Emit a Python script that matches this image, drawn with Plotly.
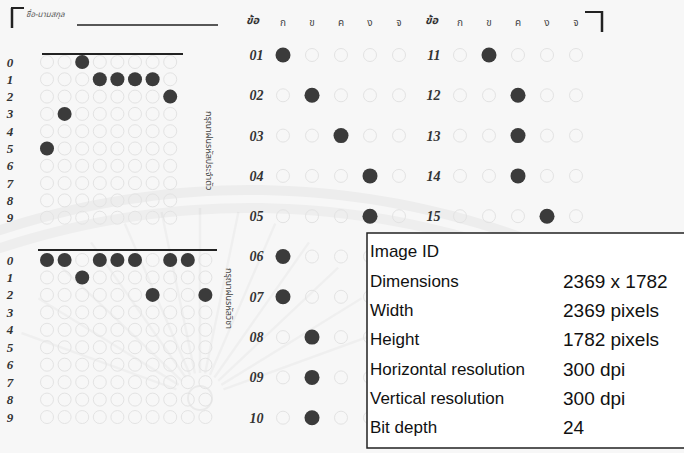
import numpy as np
import plotly.graph_objects as go

W, H = 684, 453

# ---------------- data ----------------
id_digits = [5, 3, 0, 1, 1, 1, 1, 2]                 # student id columns (top grid)
subject_digits = [0, 0, 1, 0, 0, 0, 2, 0, 0, 2]      # subject code columns (bottom grid)
digit_labels = ["0", "1", "2", "3", "4", "5", "6", "7", "8", "9"]
choices = ["ก", "ข", "ค", "ง", "จ"]
questions_left = [1, 2, 3, 4, 5, 6, 7, 8, 9, 10]
answers_left = ["ก", "ข", "ค", "ง", "ง", "ก", "ก", "ข", "ข", "ข"]
questions_right = [11, 12, 13, 14, 15]
answers_right = ["ข", "ค", "ค", "ค", "ง"]
info_labels = ["Image ID", "Dimensions", "Width", "Height",
               "Horizontal resolution", "Vertical resolution", "Bit depth"]
info_values = ["", "2369 x 1782", "2369 pixels", "1782 pixels",
               "300 dpi", "300 dpi", "24"]

# ---------------- helpers (layout geometry in pixels) ----------------
def xdom(c0, step, n):
    return [(c0 - step / 2) / W, (c0 + (n - 0.5) * step) / W]

def ydom(c0, step, n):
    top = c0 - step / 2
    bot = c0 + (n - 0.5) * step
    return [1 - bot / H, 1 - top / H]

FILL = "#3b3b3b"
EMPTY = "#e3e3e3"
serif = "Liberation Serif"
thai = "Noto Sans Thai, Noto Sans, DejaVu Sans, sans-serif"

fig = go.Figure()

def empty_grid(ncols, nrows, xa, ya, y0=0, size=13):
    gx, gy = np.meshgrid(np.arange(ncols), np.arange(nrows) + y0)
    fig.add_trace(go.Scatter(x=gx.ravel(), y=gy.ravel(), mode="markers",
                             xaxis=xa, yaxis=ya, hoverinfo="skip",
                             marker=dict(symbol="circle-open", size=size, color=EMPTY,
                                         line=dict(color=EMPTY, width=1))))

# ID grid (x, y)
empty_grid(8, 10, "x", "y")
fig.add_trace(go.Scatter(x=list(range(len(id_digits))), y=id_digits, mode="markers",
                         xaxis="x", yaxis="y",
                         marker=dict(size=14, color=FILL)))
# subject grid (x2, y2)
empty_grid(10, 10, "x2", "y2")
fig.add_trace(go.Scatter(x=list(range(len(subject_digits))), y=subject_digits, mode="markers",
                         xaxis="x2", yaxis="y2",
                         marker=dict(size=14, color=FILL)))
# answers left (x3, y3)
empty_grid(5, 10, "x3", "y3", y0=1, size=13)
fig.add_trace(go.Scatter(x=[choices.index(a) for a in answers_left], y=questions_left,
                         mode="markers", xaxis="x3", yaxis="y3",
                         marker=dict(size=15, color=FILL)))
# answers right (x4, y4)
empty_grid(5, 5, "x4", "y4", y0=11, size=13)
fig.add_trace(go.Scatter(x=[choices.index(a) for a in answers_right], y=questions_right,
                         mode="markers", xaxis="x4", yaxis="y4",
                         marker=dict(size=15, color=FILL)))

hidden = dict(showgrid=False, zeroline=False, showline=False, ticks="", fixedrange=True)
lab_font = dict(family=serif, size=13, color="#333", style="italic", weight="bold")
q_font = dict(family=serif, size=14, color="#333", style="italic", weight="bold")
ch_font = dict(family=thai, size=10, color="#444")

fig.update_layout(
    width=W, height=H, margin=dict(l=0, r=0, t=0, b=0),
    paper_bgcolor="#f7f7f7", plot_bgcolor="rgba(0,0,0,0)", showlegend=False,
    xaxis=dict(domain=xdom(47, 17.6, 8), range=[-0.5, 7.5], showticklabels=False, **hidden),
    yaxis=dict(domain=ydom(62, 17.3, 10), range=[9.5, -0.5], tickvals=list(range(10)),
               ticktext=digit_labels, tickfont=lab_font, ticklabelstandoff=24, **hidden),
    xaxis2=dict(domain=xdom(47, 17.6, 10), range=[-0.5, 9.5], showticklabels=False,
                anchor="y2", **hidden),
    yaxis2=dict(domain=ydom(260, 17.45, 10), range=[9.5, -0.5], tickvals=list(range(10)),
                ticktext=digit_labels, tickfont=lab_font, ticklabelstandoff=24,
                anchor="x2", **hidden),
    xaxis3=dict(domain=xdom(283, 29, 5), range=[-0.5, 4.5], side="top",
                tickvals=list(range(5)), ticktext=choices, tickfont=ch_font,
                anchor="y3", ticklabelstandoff=6, **hidden),
    yaxis3=dict(domain=ydom(55, 40.3, 10), range=[10.5, 0.5], tickvals=questions_left,
                ticktext=[f"{q:02d}" for q in questions_left], tickfont=q_font,
                anchor="x3", ticklabelstandoff=4, **hidden),
    xaxis4=dict(domain=xdom(460, 29, 5), range=[-0.5, 4.5], side="top",
                tickvals=list(range(5)), ticktext=choices, tickfont=ch_font,
                anchor="y4", ticklabelstandoff=6, **hidden),
    yaxis4=dict(domain=ydom(55, 40.3, 10), range=[20.5, 10.5], tickvals=questions_right,
                ticktext=[f"{q:02d}" for q in questions_right], tickfont=q_font,
                anchor="x4", ticklabelstandoff=4, **hidden),
)

shapes = []
# faint watermark arcs and rays
for r, peak, col in [(800, 190, "rgba(0,0,0,0.04)"), (800, 208, "rgba(0,0,0,0.035)")]:
    cx, cy = 250, peak + r
    xs = np.linspace(-10, 520, 40)
    pts = [(x, cy - np.sqrt(r * r - (x - cx) ** 2)) for x in xs]
    shapes.append(dict(type="path", xref="paper", yref="paper",
                       path="M " + " L ".join(f"{x / W:.4f},{1 - y / H:.4f}" for x, y in pts),
                       line=dict(color=col, width=10), layer="below"))
for ang in np.linspace(200, 340, 13):
    a = np.radians(ang)
    x0, y0 = 200 + 25 * np.cos(a), 398 + 25 * np.sin(a)
    x1, y1 = 200 + 190 * np.cos(a), 398 + 190 * np.sin(a)
    shapes.append(dict(type="line", xref="paper", yref="paper",
                       x0=x0 / W, y0=1 - y0 / H, x1=x1 / W, y1=1 - y1 / H,
                       line=dict(color="rgba(0,0,0,0.03)", width=2.5), layer="below"))
shapes.append(dict(type="circle", xref="paper", yref="paper",
                   x0=188 / W, x1=212 / W, y0=1 - 410 / H, y1=1 - 386 / H,
                   line=dict(color="rgba(0,0,0,0.05)", width=2), layer="below"))

def hline(x0, x1, y, w=2, color="#222"):
    shapes.append(dict(type="line", xref="paper", yref="paper", x0=x0 / W, x1=x1 / W,
                       y0=1 - y / H, y1=1 - y / H, line=dict(color=color, width=w)))

def vline(x, y0, y1, w=2, color="#222"):
    shapes.append(dict(type="line", xref="paper", yref="paper", x0=x / W, x1=x / W,
                       y0=1 - y0 / H, y1=1 - y1 / H, line=dict(color=color, width=w)))

# brackets and rules
vline(12, 8, 28, w=2.5)
hline(11, 24, 8, w=2)
hline(77, 218, 25, w=1.6)
hline(42, 183, 54, w=1.8)
hline(38, 217, 250, w=1.8)
hline(585, 603, 12, w=2)
vline(602, 11, 32, w=2.5)

# info box (overlay), extending past the right edge
shapes.append(dict(type="rect", xref="paper", yref="paper", x0=367 / W, x1=820 / W,
                   y0=1 - 448 / H, y1=1 - 233 / H, line=dict(color="#222", width=1.5),
                   fillcolor="white", layer="above"))
fig.update_layout(shapes=shapes)

ann = []
def text(x, y, s, size, color="#222", family=thai, xanchor="left", angle=0, **kw):
    ann.append(dict(x=x / W, y=1 - y / H, xref="paper", yref="paper", text=s,
                    showarrow=False, xanchor=xanchor, yanchor="middle", textangle=angle,
                    font=dict(size=size, color=color, family=family, **kw)))

text(24, 14, "ชื่อ-นามสกุล", 8, color="#555", style="italic")
text(253, 20, "ข้อ", 11, color="#333", xanchor="center", style="italic", weight="bold")
text(432, 20, "ข้อ", 11, color="#333", xanchor="center", style="italic", weight="bold")
text(209, 150, "กรุณาฝนรหัสประจำตัว", 9, color="#444", xanchor="center", angle=90)
text(229, 298, "กรุณาฝนรหัสวิชา", 9, color="#444", xanchor="center", angle=90)

for i, (lab, val) in enumerate(zip(info_labels, info_values)):
    y = 252 + 29.3 * i
    text(368, y, lab, 17, color="#111", family="Liberation Sans")
    if val:
        text(561, y, val, 19, color="#111", family="Liberation Sans")

fig.update_layout(annotations=ann)
fig.write_html("out.html", config={"displayModeBar": False},
               post_script="document.body.style.margin='0';document.body.style.padding='0';")
